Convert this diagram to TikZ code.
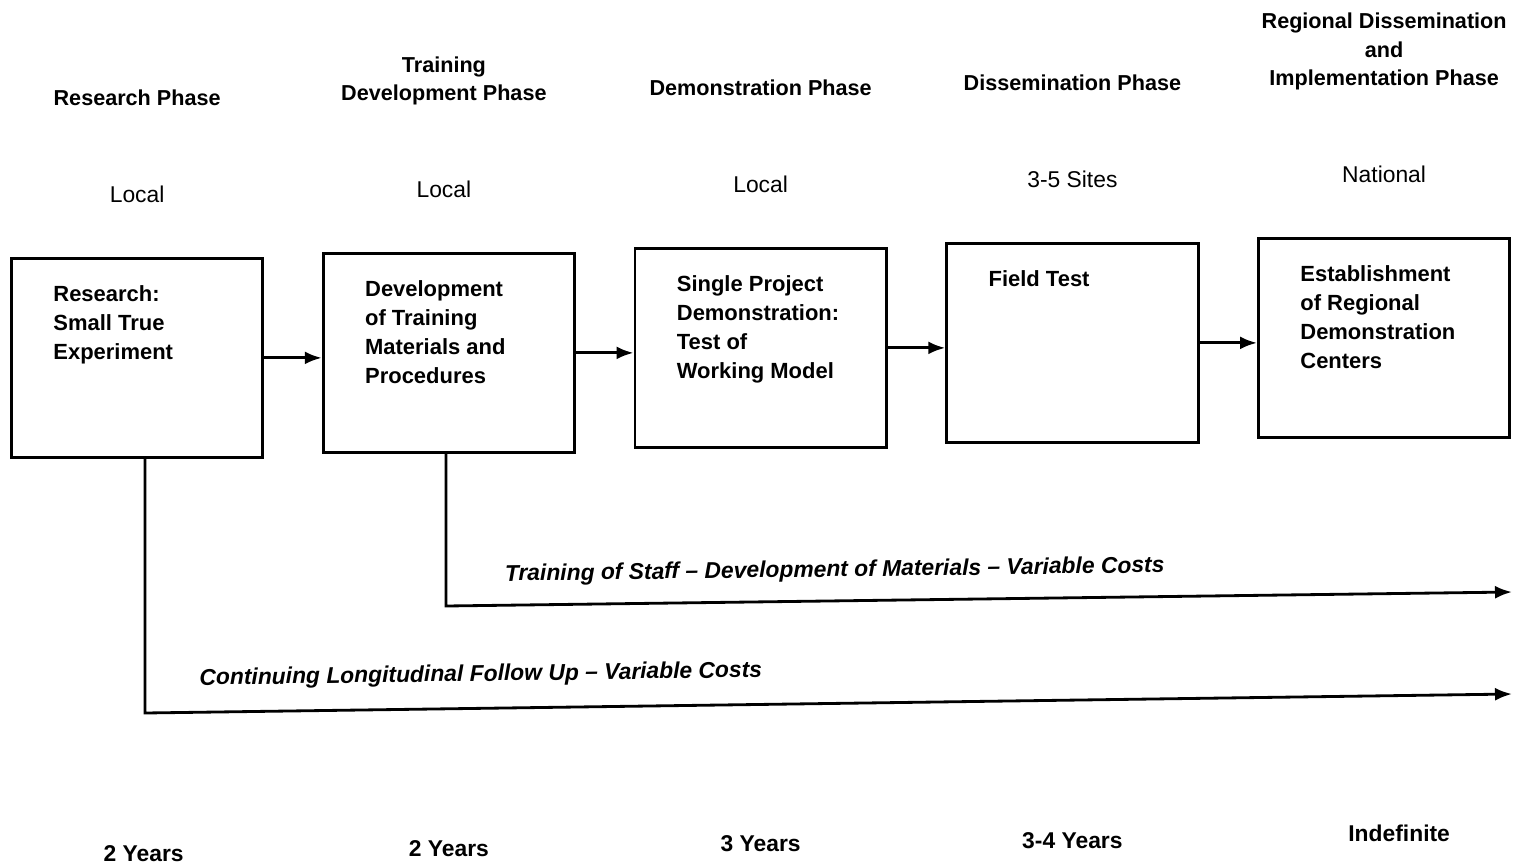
\documentclass[tikz,border=0pt]{standalone}
\usepackage{fontspec}
\setmainfont{Liberation Sans}
\usetikzlibrary{positioning,arrows.meta}

\tikzset{
  stage/.style={draw, line width=1.6pt, anchor=north west, inner xsep=0.84cm, inner ysep=0.55cm,
    font=\bfseries\fontsize{12.5}{16.5}\selectfont},
  phase/.style={align=center, inner sep=0pt, text depth=0pt, font=\bfseries\fontsize{12.3}{16}\selectfont},
  place/.style={inner sep=0pt, font=\fontsize{13}{15}\selectfont},
  span/.style={inner sep=0pt, font=\bfseries\fontsize{13}{15}\selectfont},
  cost/.style={inner sep=0pt, sloped, font=\bfseries\itshape\fontsize{13}{15}\selectfont},
  flow/.style={line width=1.6pt, -{Latex[length=0.34cm, width=0.26cm]}}
}
\newcommand{\stagetext}[1]{\parbox[t][2.88cm][t]{3.35cm}{\raggedright #1}}

\begin{document}
\begin{tikzpicture}[x=0.02cm, y=-0.02cm]
  \useasboundingbox (0,0) rectangle (1522,866);

  % the five stages
  \node[stage] (b1) at (10,257) {\stagetext{Research:\\Small True\\Experiment}};
  \node[stage, right=1.15cm of b1, yshift=0.1cm] (b2) {\stagetext{Development\\of Training\\Materials and\\Procedures}};
  \node[stage, right=1.15cm of b2, yshift=0.1cm] (b3) {\stagetext{Single Project\\Demonstration:\\Test of\\Working Model}};
  \node[stage, right=1.15cm of b3, yshift=0.1cm] (b4) {\stagetext{Field Test}};
  \node[stage, right=1.15cm of b4, yshift=0.1cm] (b5) {\stagetext{Establishment\\of Regional\\Demonstration\\Centers}};

  % scope of each stage
  \node[place, above=1.08cm of b1] (l1) {Local};
  \node[place, above=1.08cm of b2, xshift=-0.1cm] (l2) {Local};
  \node[place, above=1.08cm of b3] (l3) {Local};
  \node[place, above=1.08cm of b4] (l4) {3-5 Sites};
  \node[place, above=1.08cm of b5] (l5) {National};

  % phase titles
  \node[phase, above=1.6cm of l1] (h1) {Research Phase};
  \node[phase, above=1.6cm of l2] (h2) {Training\\Development Phase};
  \node[phase, above=1.6cm of l3] (h3) {Demonstration Phase};
  \node[phase, above=1.6cm of l4] (h4) {Dissemination Phase};
  \node[phase, above=1.6cm of l5] (h5) {Regional Dissemination\\and\\Implementation Phase};

  % duration
  \node[span, below=7.72cm of b1, xshift=0.13cm] (y1) {2 Years};
  \node[span, below=7.72cm of b2] (y2) {2 Years};
  \node[span, below=7.72cm of b3] (y3) {3 Years};
  \node[span, below=7.77cm of b4] (y4) {3-4 Years};
  \node[span, below=7.72cm of b5, xshift=0.3cm] (y5) {Indefinite};

  \draw[flow] (b1.east) -- (b1.east -| b2.west);
  \draw[flow] (b2.east) -- (b2.east -| b3.west);
  \draw[flow] (b3.east) -- (b3.east -| b4.west);
  \draw[flow] (b4.east) -- (b4.east -| b5.west);

  % ongoing activities
  \coordinate (k2) at (446,606);
  \coordinate (e1) at (1512,592);
  \coordinate (k1) at (145,713);
  \coordinate (e2) at (1512,694);
  \draw[flow] (b2.south -| k2) -- (k2) -- node[cost, pos=0.365, above=0.36cm] (c1)
    {Training of Staff -- Development of Materials -- Variable Costs} (e1);
  \draw[flow] (b1.south -| k1) -- (k1) -- node[cost, pos=0.246, above=0.42cm] (c2)
    {Continuing Longitudinal Follow Up -- Variable Costs} (e2);
\end{tikzpicture}
\end{document}
